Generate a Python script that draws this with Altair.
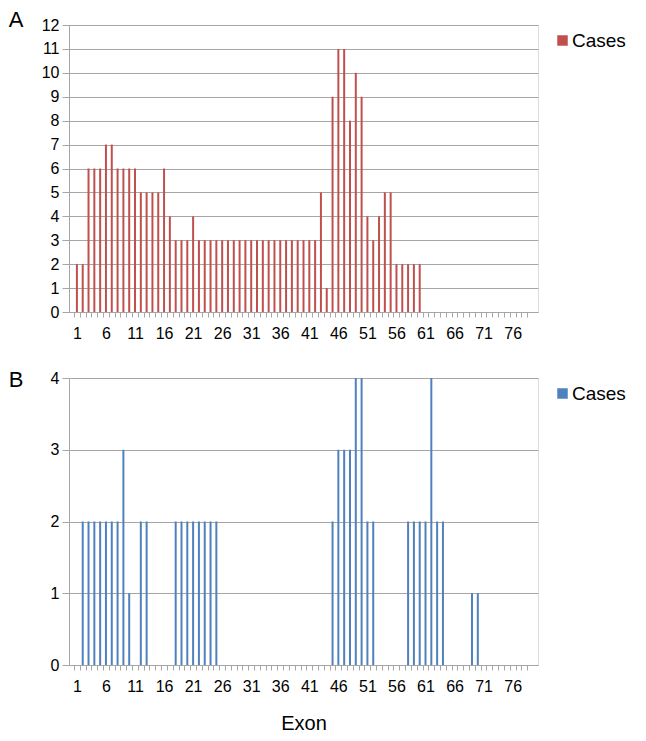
import altair as alt
import pandas as pd

# ---- data ----
exons = list(range(1, 80))

cases_a = [2, 2, 6, 6, 6, 7, 7, 6, 6, 6,
           6, 5, 5, 5, 5, 6, 4, 3, 3, 3,
           4, 3, 3, 3, 3, 3, 3, 3, 3, 3,
           3, 3, 3, 3, 3, 3, 3, 3, 3, 3,
           3, 3, 5, 1, 9, 11, 11, 8, 10, 9,
           4, 3, 4, 5, 5, 2, 2, 2, 2, 2,
           0, 0, 0, 0, 0, 0, 0, 0, 0, 0,
           0, 0, 0, 0, 0, 0, 0, 0, 0]

cases_b = [0, 2, 2, 2, 2, 2, 2, 2, 3, 1,
           0, 2, 2, 0, 0, 0, 0, 2, 2, 2,
           2, 2, 2, 2, 2, 0, 0, 0, 0, 0,
           0, 0, 0, 0, 0, 0, 0, 0, 0, 0,
           0, 0, 0, 0, 2, 3, 3, 3, 4, 4,
           2, 2, 0, 0, 0, 0, 0, 2, 2, 2,
           2, 4, 2, 2, 0, 0, 0, 0, 1, 1,
           0, 0, 0, 0, 0, 0, 0, 0, 0]

x_label_values = [1, 6, 11, 16, 21, 26, 31, 36, 41, 46, 51, 56, 61, 66, 71, 76]
y_max_a = 12
y_max_b = 4
series_name = "Cases"
x_title = "Exon"
letters = ["A", "B"]

RED = "#C0504D"
BLUE = "#4F81BD"
GRID = "#A6A6A6"
FONT = "Liberation Sans"

W = 469
H = 287
STEP = W / 79.0


def panel(values, color, ymax, letter, with_title):
    df = pd.DataFrame({"Exon": exons, "Cases": values, "series": series_name})
    label_test = " || ".join(f"datum.value == {v}" for v in x_label_values)
    x_axis = alt.Axis(
        values=exons,
        labelExpr=f"({label_test}) ? datum.label : ''",
        tickOffset=-STEP / 2,
        labelOffset=STEP / 2,
        tickSize=5,
        tickColor=GRID,
        domainColor=GRID,
        grid=False,
        labelFontSize=16,
        labelColor="black",
        labelFont=FONT,
        labelPadding=8,
        labelOverlap=False,
        labelFlush=False,
        titleFontSize=20,
        titleFont=FONT,
        titleFontWeight="normal",
        titleColor="black",
        titlePadding=19,
    )
    y_axis = alt.Axis(
        values=list(range(ymax + 1)),
        tickSize=7,
        tickColor=GRID,
        domainColor=GRID,
        gridColor=GRID,
        labelFontSize=16,
        labelColor="black",
        labelFont=FONT,
        labelPadding=3,
    )
    bars = alt.Chart(df).mark_bar(size=2).encode(
        x=alt.X("Exon:Q", scale=alt.Scale(domain=[0.5, 79.5], nice=False, zero=False),
                axis=x_axis, title=x_title if with_title else None),
        y=alt.Y("Cases:Q", scale=alt.Scale(domain=[0, ymax], nice=False),
                axis=y_axis, title=None),
        color=alt.Color("series:N",
                        scale=alt.Scale(domain=[series_name], range=[color]),
                        legend=alt.Legend(title=None, orient="none", legendX=484, legendY=6,
                                          symbolType="square", symbolSize=110,
                                          symbolStrokeWidth=0, labelFontSize=19,
                                          labelFont=FONT, labelColor="black",
                                          labelOffset=0)),
    )
    ldf = pd.DataFrame({"t": [letter]})
    txt = alt.Chart(ldf).mark_text(fontSize=22, font=FONT, align="center",
                                   baseline="middle", color="black").encode(
        text="t:N", x=alt.value(-53), y=alt.value(-5 if letter == "A" else 2))
    return alt.layer(bars, txt).properties(width=W, height=H)


top = panel(cases_a, RED, y_max_a, letters[0], False)
bottom = panel(cases_b, BLUE, y_max_b, letters[1], True)

chart = alt.vconcat(top, bottom, spacing=26).resolve_scale(
    color="independent").resolve_legend(color="independent").properties(
    padding={"left": 0, "top": 0, "right": 5, "bottom": 5}
).configure_view(stroke=None).configure(background="white")

chart.save("out.html", embed_options={"renderer": "svg", "actions": False})
